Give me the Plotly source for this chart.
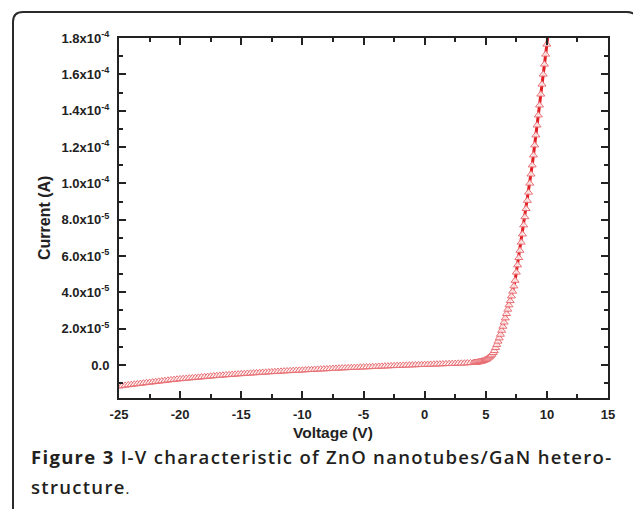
import plotly.graph_objects as go
import numpy as np

# ---- data ----
voltage_flat = [
    -25.0, -24.75, -24.5, -24.25, -24.0, -23.75, -23.5, -23.25, -23.0, -22.75, -22.5, -22.25,
    -22.0, -21.75, -21.5, -21.25, -21.0, -20.75, -20.5, -20.25, -20.0, -19.75, -19.5, -19.25,
    -19.0, -18.75, -18.5, -18.25, -18.0, -17.75, -17.5, -17.25, -17.0, -16.75, -16.5, -16.25,
    -16.0, -15.75, -15.5, -15.25, -15.0, -14.75, -14.5, -14.25, -14.0, -13.75, -13.5, -13.25,
    -13.0, -12.75, -12.5, -12.25, -12.0, -11.75, -11.5, -11.25, -11.0, -10.75, -10.5, -10.25,
    -10.0, -9.75, -9.5, -9.25, -9.0, -8.75, -8.5, -8.25, -8.0, -7.75, -7.5, -7.25,
    -7.0, -6.75, -6.5, -6.25, -6.0, -5.75, -5.5, -5.25, -5.0, -4.75, -4.5, -4.25,
    -4.0, -3.75, -3.5, -3.25, -3.0, -2.75, -2.5, -2.25, -2.0, -1.75, -1.5, -1.25,
    -1.0, -0.75, -0.5, -0.25, 0.0, 0.25, 0.5, 0.75, 1.0, 1.25, 1.5, 1.75,
    2.0, 2.25, 2.5, 2.75, 3.0, 3.25, 3.5, 3.75, 4.0,
]
current_flat_uA = [
    -11.7, -11.5, -11.25, -11.0, -10.8, -10.6, -10.4, -10.2, -10.0, -9.8, -9.6, -9.4,
    -9.2, -9.0, -8.8, -8.6, -8.4, -8.2, -8.05, -7.85, -7.7, -7.55, -7.4, -7.25,
    -7.1, -6.95, -6.8, -6.65, -6.5, -6.35, -6.2, -6.05, -5.9, -5.75, -5.65, -5.5,
    -5.4, -5.25, -5.15, -5.0, -4.9, -4.8, -4.65, -4.55, -4.45, -4.35, -4.2, -4.1,
    -4.0, -3.9, -3.8, -3.7, -3.6, -3.5, -3.4, -3.3, -3.2, -3.1, -3.0, -2.95,
    -2.85, -2.75, -2.65, -2.6, -2.5, -2.4, -2.3, -2.25, -2.15, -2.05, -1.95, -1.9,
    -1.8, -1.7, -1.65, -1.55, -1.5, -1.4, -1.35, -1.25, -1.2, -1.1, -1.05, -0.95,
    -0.9, -0.8, -0.75, -0.65, -0.6, -0.5, -0.45, -0.35, -0.3, -0.2, -0.15, -0.1,
    -0.05, 0.0, 0.1, 0.15, 0.2, 0.25, 0.3, 0.4, 0.45, 0.5, 0.55, 0.65,
    0.7, 0.75, 0.8, 0.9, 0.95, 1.0, 1.1, 1.2, 1.3,
]
voltage_rise = [
    4.1, 4.2, 4.3, 4.4, 4.5, 4.6, 4.7, 4.8, 4.9, 5.0,
    5.1, 5.2, 5.3, 5.4, 5.5, 5.6, 5.7, 5.8, 5.9, 6.0,
    6.1, 6.2, 6.3, 6.4, 6.5, 6.6, 6.7, 6.8, 6.9, 7.0,
    7.1, 7.2, 7.3, 7.4, 7.5, 7.6, 7.7, 7.8, 7.9, 8.0,
    8.1, 8.2, 8.3, 8.4, 8.5, 8.6, 8.7, 8.8, 8.9, 9.0,
    9.1, 9.2, 9.3, 9.4, 9.5, 9.6, 9.7, 9.8, 9.9, 10.0, 10.1,
]
current_rise_uA = [
    1.35, 1.4, 1.5, 1.6, 1.75, 1.9, 2.1, 2.3, 2.6, 2.9,
    3.3, 3.8, 4.4, 5.0, 5.8, 6.7, 7.8, 9.5, 11.2, 13.0,
    14.8, 16.8, 19.0, 21.2, 23.5, 25.8, 28.2, 30.6, 33.0, 35.3,
    37.9, 40.5, 43.4, 46.5, 51.0, 55.0, 59.0, 63.0, 67.5, 72.0,
    77.0, 81.5, 86.0, 90.5, 95.0, 100.0, 105.0, 110.0, 115.5, 121.0,
    126.5, 132.0, 137.5, 143.0, 149.0, 154.5, 160.0, 165.5, 171.0, 176.5, 182.0,
]

x_tick_vals = [-25, -20, -15, -10, -5, 0, 5, 10, 15]
x_tick_text = ["-25", "-20", "-15", "-10", "-5", "0", "5", "10", "15"]
y_tick_vals = [0.0, 2e-5, 4e-5, 6e-5, 8e-5, 1e-4, 1.2e-4, 1.4e-4, 1.6e-4, 1.8e-4]
y_tick_text = ["0.0", "2.0x10<sup>-5</sup>", "4.0x10<sup>-5</sup>", "6.0x10<sup>-5</sup>",
               "8.0x10<sup>-5</sup>", "1.0x10<sup>-4</sup>", "1.2x10<sup>-4</sup>",
               "1.4x10<sup>-4</sup>", "1.6x10<sup>-4</sup>", "1.8x10<sup>-4</sup>"]
y_minor_vals = [-1e-5, 1e-5, 3e-5, 5e-5, 7e-5, 9e-5, 1.1e-4, 1.3e-4, 1.5e-4, 1.7e-4]

V = voltage_flat + voltage_rise
I = (np.array(current_flat_uA + current_rise_uA) * 1e-6).tolist()

W, H = 633, 509
L, R, T, B = 119, 25, 38, 111
pw, ph = W - L - R, H - T - B


def px(x):
    return (x - L) / pw


def py(y):
    return (H - B - y) / ph


fig = go.Figure()
fig.add_trace(go.Scatter(
    x=V, y=I, mode="lines+markers",
    line=dict(color="rgb(225,30,35)", width=3),
    marker=dict(symbol="triangle-up", size=7, color="rgba(255,255,255,0.85)",
                line=dict(color="rgb(232,110,115)", width=1)),
    showlegend=False,
))

FONT = "Liberation Sans, Arial, sans-serif"
tick_font = dict(family=FONT, size=13, color="#222")
fig.update_xaxes(
    range=[-25, 15], tickvals=x_tick_vals,
    ticktext=["<b>%s</b>" % t for t in x_tick_text],
    ticks="inside", ticklen=7, tickwidth=1.5, tickcolor="#222",
    minor=dict(ticks="inside", ticklen=4, tickwidth=1.5, tickcolor="#222", dtick=2.5, tick0=0),
    showline=True, linecolor="#222", linewidth=2, mirror="ticks",
    showgrid=False, zeroline=False, tickfont=tick_font, ticklabelstandoff=3,
)
fig.update_yaxes(
    range=[-1.817e-5, 1.8e-4], tickvals=y_tick_vals,
    ticktext=["<b>%s</b>" % t for t in y_tick_text],
    ticks="inside", ticklen=7, tickwidth=1.5, tickcolor="#222",
    minor=dict(ticks="inside", ticklen=4, tickwidth=1.5, tickcolor="#222", tickvals=y_minor_vals),
    showline=True, linecolor="#222", linewidth=2, mirror="ticks",
    showgrid=False, zeroline=False, tickfont=tick_font, ticklabelstandoff=5,
)

# card border with rounded corners
x0, x1 = px(13), px(637)
yt, yb = py(12), py(540)
rx, ry = 10 / pw, 10 / ph
path = (f"M {x0},{yb} L {x0},{yt - ry} Q {x0},{yt} {x0 + rx},{yt} "
        f"L {x1 - rx},{yt} Q {x1},{yt} {x1},{yt - ry} L {x1},{yb}")
fig.add_shape(type="path", path=path, xref="paper", yref="paper",
              line=dict(color="#2a2a2a", width=2))

CAP = "Open Sans, Noto Sans, sans-serif"
ann = [
    dict(x=px(44), y=py(218), text="<b>Current (A)</b>", textangle=-90, xanchor="center",
         font=dict(family=FONT, size=16, color="#222")),
    dict(x=px(333), y=py(432), text="<b>Voltage (V)</b>", xanchor="center",
         font=dict(family=FONT, size=15.5, color="#222")),
    dict(x=px(29), y=py(456), xanchor="left",
         text="<span style='letter-spacing:1.3px'><b>Figure 3</b> I-V characteristic of ZnO nanotubes/GaN hetero-</span>",
         font=dict(family=CAP, size=18.5, color="#231f20", weight=600)),
    dict(x=px(29), y=py(486), xanchor="left",
         text="<span style='letter-spacing:1.3px'>structure</span><span style='font-size:12px'>.</span>",
         font=dict(family=CAP, size=18.5, color="#231f20", weight=600)),
]
for a in ann:
    a.update(xref="paper", yref="paper", showarrow=False, yanchor="middle")
fig.update_layout(annotations=ann)

fig.update_layout(
    width=W, height=H, margin=dict(l=L, r=R, t=T, b=B),
    paper_bgcolor="white", plot_bgcolor="white",
    font=dict(family=FONT, color="#222"),
)
fig.write_html("out.html", config={"displayModeBar": False},
               post_script="document.body.style.margin='0';document.body.style.overflow='hidden';")
